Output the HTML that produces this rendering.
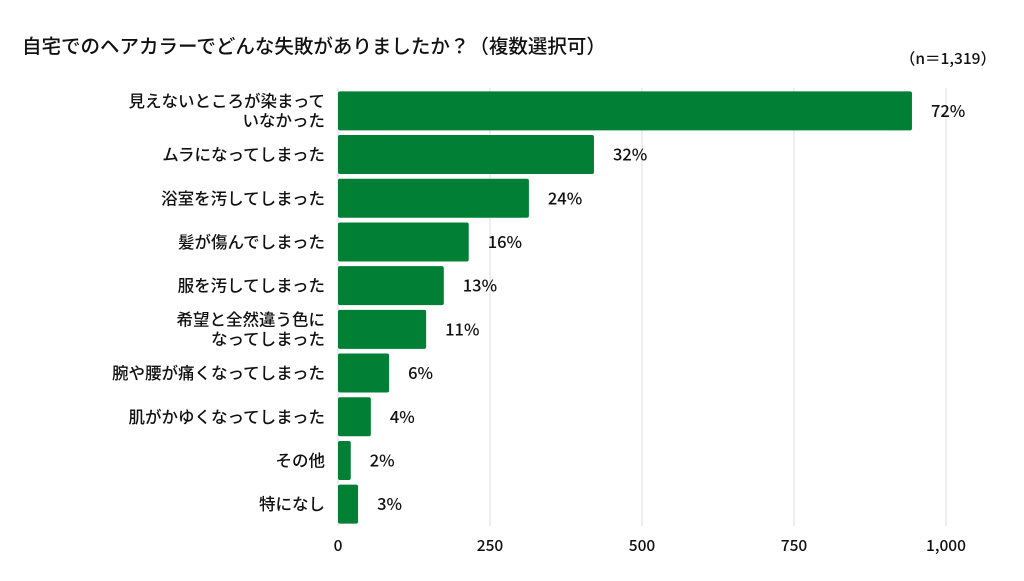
<!DOCTYPE html>
<html><head><meta charset="utf-8">
<style>
body{margin:0;background:#fff;font-family:"Noto Sans CJK JP","Liberation Sans",sans-serif;}
svg text{font-family:"Noto Sans CJK JP","Liberation Sans",sans-serif;fill:#111;font-weight:500;}
</style></head>
<body>
<svg id="c" width="1024" height="576">
<text x="22" y="53" font-size="19.5">自宅でのヘアカラーでどんな失敗がありましたか？（複数選択可）</text>
<text x="996" y="64" font-size="15.5" text-anchor="end">（n＝1,319）</text>
<g id="grid"></g><g id="bars"></g><g id="labels"></g><g id="ticks"></g>
</svg>
<script>
const categories=[["見えないところが染まって","いなかった"],["ムラになってしまった"],["浴室を汚してしまった"],["髪が傷んでしまった"],["服を汚してしまった"],["希望と全然違う色に","なってしまった"],["腕や腰が痛くなってしまった"],["肌がかゆくなってしまった"],["その他"],["特になし"]];
const values=[944,421,314,215,174,145,84,54,21,33];
const percents=["72%","32%","24%","16%","13%","11%","6%","4%","2%","3%"];
const ticks=[0,250,500,750,1000];
const tickLabels=["0","250","500","750","1,000"];
const NS="http://www.w3.org/2000/svg";
const x0=338,x1=946,vmax=1000,top0=89,step=43.7,bh=39;
const xs=v=>x0+(x1-x0)*v/vmax;
const yc=i=>top0+step*i+step/2;
function mk(t,a,p){const e=document.createElementNS(NS,t);for(const k in a)e.setAttribute(k,a[k]);p.appendChild(e);return e;}
const g=document.getElementById('grid'),b=document.getElementById('bars'),l=document.getElementById('labels'),tk=document.getElementById('ticks');
ticks.forEach((t,i)=>{
 if(t>0){const ln=mk('line',{x1:xs(t),x2:xs(t),y1:88,y2:526,stroke:'#dcdcdc','stroke-width':1},g);
 
 }
 const tx=mk('text',{x:xs(t),y:551,'font-size':15.5,'text-anchor':'middle'},tk);tx.textContent=tickLabels[i];
 
 
});
mk('line',{x1:x0,x2:x0,y1:88,y2:526,stroke:'#dcdcdc'},g);
values.forEach((v,i)=>{
 const y=yc(i);
 const r=mk('rect',{x:x0,y:y-bh/2,width:xs(v)-x0,height:bh,rx:2,fill:'#007f35'},b);
 
 
 const p=mk('text',{x:xs(v)+19,y:y+6,'font-size':16.5},l);p.textContent=percents[i];
 
 
 const c=categories[i];
 c.forEach((s,j)=>{
  const t=mk('text',{x:325,y:y+6+(j-(c.length-1)/2)*19.5,'font-size':16.5,'text-anchor':'end'},l);t.textContent=s;
  
  
 });
});
</script>
</body></html>
